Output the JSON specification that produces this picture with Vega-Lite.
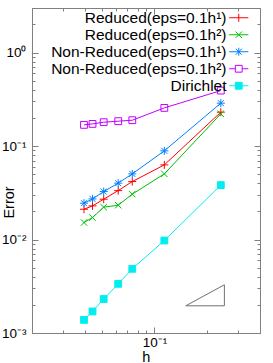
{
  "$schema": "https://vega.github.io/schema/vega-lite/v6.json",
  "width": 228,
  "height": 325,
  "autosize": {"type": "none"},
  "padding": {"left": 32, "top": 8, "right": 13, "bottom": 30},
  "config": {
    "font": "Liberation Sans",
    "view": {"stroke": "#808080", "strokeWidth": 1},
    "axis": {"grid": false, "domain": false, "tickColor": "#808080", "tickWidth": 1, "labelColor": "#000000", "titleColor": "#000000", "labelFont": "Liberation Sans", "titleFont": "Liberation Sans", "labelFontSize": 13.5, "titleFontSize": 14.5, "titleFontWeight": "normal", "labelOverlap": false, "labelFlush": false},
    "legend": {"orient": "none", "legendX": 199, "legendY": 2, "title": null, "symbolSize": 64,
      "labelAlign": "right", "labelOffset": -20, "labelFontSize": 15.5, "labelFont": "Liberation Sans", "labelColor": "#000000", "labelLimit": 0,
      "rowPadding": -6, "symbolStrokeWidth": 1, "symbolOpacity": 1}
  },
  "datasets": {
    "series": [
      {"series": "Reduced(eps=0.1h¹)", "h": 0.0396, "err": 0.0211},
      {"series": "Reduced(eps=0.1h¹)", "h": 0.0443, "err": 0.0229},
      {"series": "Reduced(eps=0.1h¹)", "h": 0.0513, "err": 0.0270},
      {"series": "Reduced(eps=0.1h¹)", "h": 0.0621, "err": 0.0334},
      {"series": "Reduced(eps=0.1h¹)", "h": 0.0747, "err": 0.0417},
      {"series": "Reduced(eps=0.1h¹)", "h": 0.1138, "err": 0.0629},
      {"series": "Reduced(eps=0.1h¹)", "h": 0.239, "err": 0.2305},
      {"series": "Reduced(eps=0.1h²)", "h": 0.0396, "err": 0.0152},
      {"series": "Reduced(eps=0.1h²)", "h": 0.0443, "err": 0.0172},
      {"series": "Reduced(eps=0.1h²)", "h": 0.0513, "err": 0.0222},
      {"series": "Reduced(eps=0.1h²)", "h": 0.0621, "err": 0.0233},
      {"series": "Reduced(eps=0.1h²)", "h": 0.0747, "err": 0.0306},
      {"series": "Reduced(eps=0.1h²)", "h": 0.1138, "err": 0.0504},
      {"series": "Reduced(eps=0.1h²)", "h": 0.239, "err": 0.221},
      {"series": "Non-Reduced(eps=0.1h¹)", "h": 0.0396, "err": 0.0245},
      {"series": "Non-Reduced(eps=0.1h¹)", "h": 0.0443, "err": 0.0272},
      {"series": "Non-Reduced(eps=0.1h¹)", "h": 0.0513, "err": 0.0326},
      {"series": "Non-Reduced(eps=0.1h¹)", "h": 0.0621, "err": 0.0401},
      {"series": "Non-Reduced(eps=0.1h¹)", "h": 0.0747, "err": 0.0504},
      {"series": "Non-Reduced(eps=0.1h¹)", "h": 0.1138, "err": 0.0889},
      {"series": "Non-Reduced(eps=0.1h¹)", "h": 0.239, "err": 0.2877},
      {"series": "Non-Reduced(eps=0.1h²)", "h": 0.0396, "err": 0.1686},
      {"series": "Non-Reduced(eps=0.1h²)", "h": 0.0443, "err": 0.1727},
      {"series": "Non-Reduced(eps=0.1h²)", "h": 0.0513, "err": 0.180},
      {"series": "Non-Reduced(eps=0.1h²)", "h": 0.0621, "err": 0.1846},
      {"series": "Non-Reduced(eps=0.1h²)", "h": 0.0747, "err": 0.189},
      {"series": "Non-Reduced(eps=0.1h²)", "h": 0.1138, "err": 0.2562},
      {"series": "Non-Reduced(eps=0.1h²)", "h": 0.239, "err": 0.392},
      {"series": "Dirichlet", "h": 0.0396, "err": 0.00138},
      {"series": "Dirichlet", "h": 0.0443, "err": 0.0017},
      {"series": "Dirichlet", "h": 0.0513, "err": 0.00231},
      {"series": "Dirichlet", "h": 0.0621, "err": 0.00336},
      {"series": "Dirichlet", "h": 0.0747, "err": 0.00486},
      {"series": "Dirichlet", "h": 0.1138, "err": 0.00976},
      {"series": "Dirichlet", "h": 0.239, "err": 0.0382}
    ],
    "tri": [
      {"h": 0.1508, "err": 0.001954, "o": 1},
      {"h": 0.2505, "err": 0.00328, "o": 2},
      {"h": 0.2505, "err": 0.001954, "o": 3},
      {"h": 0.1508, "err": 0.001954, "o": 4}
    ]
  },
  "layer": [
    {
      "data": {"name": "series"},
      "mark": {"type": "line", "strokeWidth": 1},
      "encoding": {
        "x": {"field": "h", "type": "quantitative", "scale": {"type": "log", "domain": [0.02, 0.4], "nice": false},
          "axis": {"orient": "bottom", "values": [0.02,0.03,0.04,0.05,0.06,0.07,0.08,0.09,0.1,0.2,0.3,0.4],
            "labelExpr": "datum.value==0.1?'10⁻¹':''",
            "tickSize": {"condition": {"test": "datum.value==0.1", "value": -6}, "value": -3},
            "labelPadding": 8, "title": "h", "titleX": 113.7, "titleY": 28, "titleBaseline": "alphabetic"}},
        "y": {"field": "err", "type": "quantitative", "scale": {"type": "log", "domain": [0.001, 3], "nice": false},
          "axis": {"orient": "left", "values": [0.001,0.002,0.003,0.004,0.005,0.006,0.007,0.008,0.009,0.01,0.02,0.03,0.04,0.05,0.06,0.07,0.08,0.09,0.1,0.2,0.3,0.4,0.5,0.6,0.7,0.8,0.9,1,2,3],
            "labelExpr": "datum.value==1?'10⁰':datum.value==0.1?'10⁻¹':datum.value==0.01?'10⁻²':datum.value==0.001?'10⁻³':''",
            "tickSize": {"condition": {"test": "datum.value==1||datum.value==0.1||datum.value==0.01||datum.value==0.001", "value": -6}, "value": -3},
            "labelPadding": 12, "title": "Error", "titleX": -22.5, "titleY": 194, "titleAngle": -90, "titleBaseline": "middle", "titleAlign": "center"}},
        "stroke": {"field": "series", "type": "nominal",
          "scale": {"domain": ["Reduced(eps=0.1h¹)", "Reduced(eps=0.1h²)", "Non-Reduced(eps=0.1h¹)", "Non-Reduced(eps=0.1h²)", "Dirichlet"],
                    "range": ["#ff0000", "#00c000", "#0080ff", "#c000ff", "#00eeee"]}}
      }
    },
    {
      "data": {"name": "series"},
      "transform": [{"filter": "datum.series=='Reduced(eps=0.1h¹)'"}],
      "mark": {"type": "point", "strokeWidth": 1, "size": 64, "opacity": 1, "shape": "M-1,0H1M0,-1V1"},
      "encoding": {
        "x": {"field": "h", "type": "quantitative", "axis": null},
        "y": {"field": "err", "type": "quantitative", "axis": null},
        "stroke": {"field": "series", "type": "nominal"},
        "fill": {"field": "series", "type": "nominal"}
      }
    },
    {
      "data": {"name": "series"},
      "transform": [{"filter": "datum.series=='Reduced(eps=0.1h²)'"}],
      "mark": {"type": "point", "strokeWidth": 1, "size": 64, "opacity": 1, "shape": "M-0.8,-0.8L0.8,0.8M-0.8,0.8L0.8,-0.8"},
      "encoding": {
        "x": {"field": "h", "type": "quantitative", "axis": null},
        "y": {"field": "err", "type": "quantitative", "axis": null},
        "stroke": {"field": "series", "type": "nominal"},
        "fill": {"field": "series", "type": "nominal"}
      }
    },
    {
      "data": {"name": "series"},
      "transform": [{"filter": "datum.series=='Non-Reduced(eps=0.1h¹)'"}],
      "mark": {"type": "point", "strokeWidth": 1, "size": 64, "opacity": 1, "shape": "M-1,0H1M0,-1V1M-0.75,-0.75L0.75,0.75M-0.75,0.75L0.75,-0.75"},
      "encoding": {
        "x": {"field": "h", "type": "quantitative", "axis": null},
        "y": {"field": "err", "type": "quantitative", "axis": null},
        "stroke": {"field": "series", "type": "nominal"},
        "fill": {"field": "series", "type": "nominal"}
      }
    },
    {
      "data": {"name": "series"},
      "transform": [{"filter": "datum.series=='Non-Reduced(eps=0.1h²)' || datum.series=='Dirichlet'"}],
      "mark": {"type": "point", "strokeWidth": 1, "size": 64, "opacity": 1, "shape": "M-0.85,-0.85H0.85V0.85H-0.85Z"},
      "encoding": {
        "x": {"field": "h", "type": "quantitative", "axis": null},
        "y": {"field": "err", "type": "quantitative", "axis": null},
        "stroke": {"field": "series", "type": "nominal"},
        "fill": {"field": "series", "type": "nominal",
          "scale": {"domain": ["Reduced(eps=0.1h¹)", "Reduced(eps=0.1h²)", "Non-Reduced(eps=0.1h¹)", "Non-Reduced(eps=0.1h²)", "Dirichlet"],
                    "range": ["transparent", "transparent", "transparent", "transparent", "#00eeee"]}}
      }
    },
    {
      "data": {"name": "series"},
      "mark": {"type": "point", "strokeWidth": 1, "size": 64, "opacity": 0},
      "encoding": {
        "x": {"field": "h", "type": "quantitative", "axis": null},
        "y": {"field": "err", "type": "quantitative", "axis": null},
        "stroke": {"field": "series", "type": "nominal"},
        "fill": {"field": "series", "type": "nominal"},
        "shape": {"field": "series", "type": "nominal",
          "scale": {"domain": ["Reduced(eps=0.1h¹)", "Reduced(eps=0.1h²)", "Non-Reduced(eps=0.1h¹)", "Non-Reduced(eps=0.1h²)", "Dirichlet"],
                    "range": ["M-2.4,0H2.4M0,-1V1", "M-2.4,0H2.4M-0.8,-0.8L0.8,0.8M-0.8,0.8L0.8,-0.8", "M-2.4,0H2.4M0,-1V1M-0.75,-0.75L0.75,0.75M-0.75,0.75L0.75,-0.75", "M-2.4,0H-0.85M0.85,0H2.4M-0.85,-0.85H0.85V0.85H-0.85Z", "M-2.4,0H2.4M-0.85,-0.85H0.85V0.85H-0.85Z"]}}
      }
    },
    {
      "data": {"name": "tri"},
      "mark": {"type": "line", "strokeWidth": 1, "color": "#707070"},
      "encoding": {
        "x": {"field": "h", "type": "quantitative",
          "axis": {"orient": "top", "values": [0.02,0.03,0.04,0.05,0.06,0.07,0.08,0.09,0.1,0.2,0.3,0.4], "labels": false, "title": null,
            "tickSize": {"condition": {"test": "datum.value==0.1", "value": -6}, "value": -3}}},
        "y": {"field": "err", "type": "quantitative",
          "axis": {"orient": "right", "values": [0.001,0.002,0.003,0.004,0.005,0.006,0.007,0.008,0.009,0.01,0.02,0.03,0.04,0.05,0.06,0.07,0.08,0.09,0.1,0.2,0.3,0.4,0.5,0.6,0.7,0.8,0.9,1,2,3], "labels": false, "title": null,
            "tickSize": {"condition": {"test": "datum.value==1||datum.value==0.1||datum.value==0.01||datum.value==0.001", "value": -6}, "value": -3}}},
        "order": {"field": "o", "type": "quantitative"}
      }
    }
  ],
  "resolve": {"axis": {"x": "independent", "y": "independent"}}
}
